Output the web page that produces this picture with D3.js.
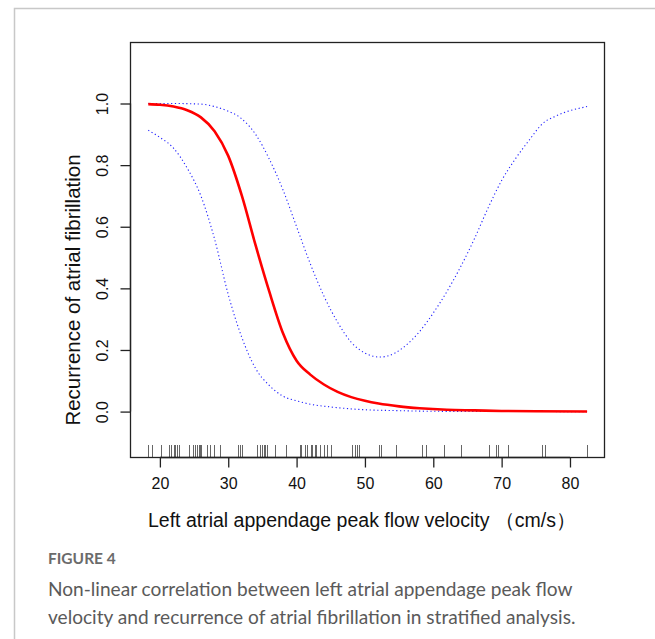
<!DOCTYPE html>
<html>
<head>
<meta charset="utf-8">
<script src="https://cdn.jsdelivr.net/npm/d3@7"></script>
<style>
	body { margin: 0; background: #fff; }
	svg { display: block; }
</style>
</head>
<body>
<svg id="chart" width="655" height="639"></svg>
<script>
// spline estimate (red) and its confidence band (blue, dotted)
var fitX   = [18.3, 20, 22, 24, 26, 28, 30, 32, 34, 36, 38, 40, 42, 44, 46, 48, 50, 52, 55, 58, 62, 66, 70, 75, 82.5];
var fitY   = [0.998, 0.996, 0.99, 0.978, 0.955, 0.91, 0.83, 0.70, 0.54, 0.39, 0.255, 0.165, 0.12, 0.088, 0.064, 0.047, 0.035, 0.026, 0.017, 0.011, 0.006, 0.004, 0.002, 0.001, 0.0005];

var upperX = [18.3, 22, 26, 28, 30, 31.7, 34, 36, 38, 40, 42, 44, 46, 48, 50, 52.2, 54.4, 56, 58, 60, 62, 64, 66, 68, 70, 72, 74, 76, 78, 82.5];
var upperY = [1.0, 1.0, 0.998, 0.99, 0.975, 0.955, 0.90, 0.82, 0.72, 0.60, 0.48, 0.375, 0.29, 0.225, 0.19, 0.177, 0.19, 0.215, 0.26, 0.32, 0.39, 0.47, 0.56, 0.66, 0.75, 0.82, 0.88, 0.935, 0.96, 0.99];

var lowerX = [18.3, 20, 22, 24, 26, 28, 30, 32, 34, 36, 38, 40, 42, 45, 50, 55, 60, 70, 82.5];
var lowerY = [0.913, 0.89, 0.855, 0.79, 0.70, 0.56, 0.38, 0.24, 0.14, 0.085, 0.05, 0.035, 0.024, 0.015, 0.006, 0.003, 0.001, 0.0003, 0.0];

// observed velocities (rug)
var rugX = [18.3, 18.9, 20.1, 21.4, 21.6, 22.0, 22.2, 22.5, 22.8, 24.2, 24.9, 25.1, 25.5, 25.7, 25.9, 26.0,
	26.9, 27.3, 27.9, 28.8, 31.5, 31.7, 32.0, 34.2, 34.6, 35.0, 35.2, 35.4, 35.7, 36.8, 38.5,
	40.5, 40.7, 41.2, 41.5, 42.1, 42.3, 42.7, 42.9, 43.4, 44.0, 44.4, 45.0, 48.1, 48.5, 48.9, 49.2,
	52.0, 52.3, 54.5, 58.4, 58.9, 61.5, 64.0, 68.1, 69.2, 69.4, 71.0, 75.9, 76.3, 82.5];

var xTicks = [20, 30, 40, 50, 60, 70, 80];
var yTicks = [0, 0.2, 0.4, 0.6, 0.8, 1.0];

var xTitle  = "Left atrial appendage peak flow velocity \uff08cm/s\uff09";
var yTitle  = "Recurrence of atrial fibrillation";
var figLabel = "FIGURE 4";
var caption = ["Non-linear correlation between left atrial appendage peak flow",
	"velocity and recurrence of atrial fibrillation in stratified analysis."];

var svg = d3.select("#chart");
var plot = { left: 130.5, right: 604.5, top: 42.5, bottom: 457.5 };

var x = d3.scaleLinear().domain([15.7, 85.05]).range([plot.left, plot.right]);
var y = d3.scaleLinear().domain([-0.149, 1.198]).range([plot.bottom, plot.top]);

// card frame
svg.append("rect").attr("width", 655).attr("height", 639).attr("fill", "#fff");
svg.append("path")
	.attr("d", "M14.5 639 V8.5 H655")
	.attr("fill", "none")
	.attr("stroke", "#c8c8c8")
	.attr("stroke-width", 1.5);

var plotFont = "'Liberation Sans', Arial, sans-serif";

// curves
var line = d3.line()
	.x(function(d){ return x(d[0]); })
	.y(function(d){ return y(d[1]); })
	.curve(d3.curveMonotoneX);

function pairs(xs, ys){
	return xs.map(function(v, i){ return [v, ys[i]]; });
}

[pairs(upperX, upperY), pairs(lowerX, lowerY)].forEach(function(band){
	svg.append("path")
		.datum(band)
		.attr("d", line)
		.attr("fill", "none")
		.attr("stroke", "#2020ff")
		.attr("stroke-width", 1.1)
		.attr("stroke-dasharray", "1.2,2.6");
});

svg.append("path")
	.datum(pairs(fitX, fitY))
	.attr("d", line)
	.attr("fill", "none")
	.attr("stroke", "#ff0000")
	.attr("stroke-width", 2.6);

// rug
svg.append("g").selectAll("line")
	.data(rugX)
	.enter().append("line")
		.attr("x1", function(d){ return Math.round(x(d)) + 0.5; })
		.attr("x2", function(d){ return Math.round(x(d)) + 0.5; })
		.attr("y1", plot.bottom - 12.5)
		.attr("y2", plot.bottom)
		.attr("stroke", "#555")
		.attr("stroke-width", 0.9);

// box
svg.append("rect")
	.attr("x", plot.left).attr("y", plot.top)
	.attr("width", plot.right - plot.left)
	.attr("height", plot.bottom - plot.top)
	.attr("fill", "none")
	.attr("stroke", "#222")
	.attr("stroke-width", 1.3);

// axes
var xAxis = svg.append("g")
	.attr("transform", "translate(0," + plot.bottom + ")")
	.call(d3.axisBottom(x).tickValues(xTicks).tickSize(10).tickPadding(10).tickSizeOuter(0));
var yAxis = svg.append("g")
	.attr("transform", "translate(" + plot.left + ",0)")
	.call(d3.axisLeft(y).tickValues(yTicks).tickSize(10).tickSizeOuter(0).tickFormat(d3.format(".1f")));

[xAxis, yAxis].forEach(function(ax){
	ax.select(".domain")
		.attr("d", ax === xAxis
			? "M" + x(20) + ",0H" + x(80)
			: "M0," + y(0) + "V" + y(1))
		.attr("stroke", "#222")
		.attr("stroke-width", 1.3);
	ax.selectAll(".tick line").attr("stroke", "#222").attr("stroke-width", 1.3);
	ax.selectAll(".tick text")
		.attr("fill", "#111")
		.style("font-family", plotFont)
		.style("font-size", "16px");
});

yAxis.selectAll(".tick text")
	.attr("x", null).attr("dy", null)
	.attr("text-anchor", "middle")
	.attr("transform", "translate(-23,0) rotate(-90)");

svg.append("text")
	.attr("x", 362)
	.attr("y", 527)
	.attr("text-anchor", "middle")
	.attr("fill", "#111")
	.style("font-family", plotFont)
	.style("font-size", "19.5px")
	.text(xTitle);

svg.append("text")
	.attr("transform", "translate(80,290) rotate(-90)")
	.attr("text-anchor", "middle")
	.attr("fill", "#111")
	.style("font-family", plotFont)
	.style("font-size", "20.5px")
	.text(yTitle);

// caption
var capFont = "Lato, 'Open Sans', sans-serif";
svg.append("text")
	.attr("x", 48).attr("y", 564)
	.attr("fill", "#6b6b6b")
	.style("font-family", capFont)
	.style("font-weight", "bold")
	.style("font-size", "15.5px")
	.text(figLabel);

svg.append("g").selectAll("text")
	.data(caption)
	.enter().append("text")
		.attr("x", 48)
		.attr("y", function(d, i){ return 596 + i * 28; })
		.attr("fill", "#5a5a5a")
		.style("font-family", capFont)
		.style("font-size", "19.1px")
		.text(function(d){ return d; });
</script>
</body>
</html>
